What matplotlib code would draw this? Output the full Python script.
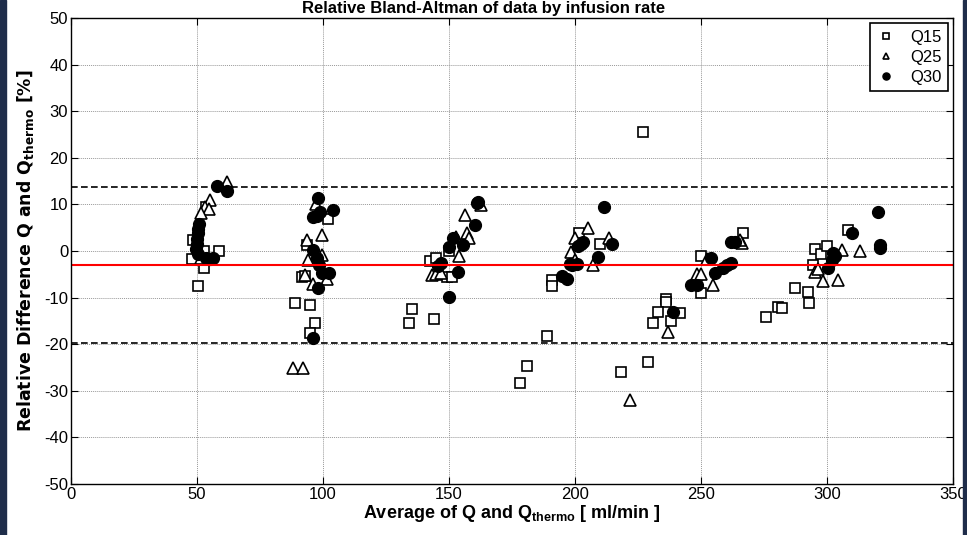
import matplotlib
matplotlib.use("Agg")
import matplotlib.pyplot as plt
from matplotlib.patches import Rectangle

plt.rcParams['font.family'] = ['Liberation Sans Narrow', 'Liberation Sans', 'DejaVu Sans']
plt.rcParams['mathtext.fontset'] = 'custom'
plt.rcParams['mathtext.bf'] = 'Liberation Sans:bold'
plt.rcParams['mathtext.sf'] = 'DejaVu Sans:bold'
plt.rcParams['axes.unicode_minus'] = False

# Q15 (squares)
q15_x = [53.4, 48.5, 52.8, 58.9, 48.1, 52.8, 52.8, 50.6,
         102.1, 93.5, 91.7, 93.0, 88.9, 95.0, 96.8, 94.8,
         150.0, 142.4, 145.0, 149.3, 151.2, 135.2, 134.1, 144.0,
         190.7, 190.7, 189.0, 181.0, 178.2, 201.7, 210.1, 226.9, 218.3, 229.1,
         266.8, 250.2, 250.2, 236.3, 236.3, 233.0, 241.7, 238.1, 230.9,
         275.9, 280.5, 282.3, 287.3, 292.3, 293.0, 294.6, 295.2, 297.8, 300.1, 308.2]
q15_y = [9.5, 2.3, 0.1, 0.1, -1.8, -1.8, -3.7, -7.6,
         6.8, 1.2, -5.5, -5.3, -11.2, -11.5, -15.4, -17.6,
         0.1, -2.1, -1.4, -5.6, -5.6, -12.4, -15.4, -14.6,
         -6.3, -7.5, -18.2, -24.7, -28.4, 3.9, 1.6, 25.6, -26.0, -23.9,
         3.8, -1.0, -9.1, -10.2, -10.9, -13.0, -13.4, -15.1, -15.5,
         -14.1, -12.1, -12.3, -7.9, -8.9, -11.1, -3.0, 0.4, -0.6, 1.1, 4.5]

# Q25 (triangles)
q25_x = [61.8, 55.3, 53.3, 54.9, 51.6, 51.5,
         97.4, 99.8, 93.5, 99.5, 94.2, 92.9, 96.2, 101.5, 88.0, 92.0,
         162.6, 156.4, 157.3, 158.0, 152.6, 153.9, 143.2, 145.0, 147.0,
         205.3, 200.0, 213.6, 198.3, 200.0, 207.3, 221.9,
         266.4, 265.5, 252.2, 248.3, 250.2, 254.6, 237.0,
         313.1, 305.8, 295.2, 296.5, 298.5, 304.5]
q25_y = [14.9, 10.9, 9.4, 9.1, 8.1, -1.5,
         10.1, 3.4, 2.4, -0.9, -2.0, -5.2, -7.0, -6.0, -25.1, -25.1,
         9.9, 7.8, 3.8, 2.7, 3.0, -1.1, -5.1, -5.0, -4.8,
         4.9, 2.7, 2.8, -0.2, -2.0, -3.0, -32.0,
         1.7, 2.3, -1.7, -4.9, -4.9, -7.4, -17.3,
         0.1, 0.3, -4.4, -3.8, -6.4, -6.2]

# Q30 (filled circles)
q30_x = [57.8, 61.8, 50.9, 50.6, 50.3, 50.1, 49.9, 49.8, 50.3, 53.5, 55.2, 56.2,
         98.2, 98.8, 96.2, 97.5, 104.1, 95.9, 97.5, 98.5, 99.5, 102.2, 98.1, 95.9,
         161.0, 161.5, 160.3, 151.6, 155.6, 150.2, 146.9, 145.5, 153.6, 150.2,
         211.6, 203.3, 201.3, 202.5, 214.5, 209.2, 197.9, 200.9, 199.0, 195.0, 197.0,
         253.8, 263.5, 262.0, 255.5, 258.8, 260.5, 262.1, 245.9, 248.3, 238.7,
         320.1, 321.0, 321.0, 310.0, 303.2, 301.9, 300.6, 302.5]
q30_y = [14.0, 12.9, 5.8, 4.8, 3.8, 2.6, 1.5, 0.4, -0.6, -1.6, -1.8, -1.5,
         11.3, 8.4, 7.3, 7.6, 8.7, 0.2, -1.5, -3.0, -4.8, -4.7, -7.9, -18.7,
         10.2, 10.6, 5.6, 2.7, 1.3, 0.8, -2.6, -3.2, -4.4, -9.8,
         9.4, 2.0, 1.1, 1.5, 1.5, -1.2, -2.8, -2.7, -3.0, -5.4, -6.1,
         -1.4, 2.0, 2.0, -4.8, -3.7, -3.0, -2.5, -7.2, -7.2, -13.0,
         8.3, 1.3, 0.6, 3.8, -1.1, -2.0, -3.7, -0.5]

mean_diff = -3.0
upper_loa = 13.7
lower_loa = -19.7

fig = plt.figure(figsize=(9.67, 5.35), dpi=100)
ax = fig.add_axes([0.0734, 0.0953, 0.9121, 0.8711])

ax.plot(q15_x, q15_y, 's', ms=7, mfc='white', mec='black', mew=1.2, label='Q15')
ax.plot(q25_x, q25_y, '^', ms=8, mfc='white', mec='black', mew=1.2, label='Q25')
ax.plot(q30_x, q30_y, 'o', ms=8.5, mfc='black', mec='black', label='Q30')

ax.axhline(mean_diff, color='red', lw=1.5)
ax.axhline(upper_loa, color='black', lw=1.2, ls='--', dashes=(4, 2))
ax.axhline(lower_loa, color='black', lw=1.2, ls='--', dashes=(4, 2))

ax.set_xlim(0, 350)
ax.set_ylim(-50, 50)
ax.set_xticks(range(0, 351, 50))
ax.set_yticks(range(-50, 51, 10))
ax.grid(True, color='#999999', ls=(0, (1, 1)), lw=0.7)
ax.tick_params(direction='in', top=True, right=True, labelsize=12, length=5, pad=2)
for s in ax.spines.values():
    s.set_linewidth(1.0)

ax.set_xlabel(r'Average of Q and Q$_{\mathbf{thermo}}$ [ ml/min ]',
              fontsize=13, fontweight='bold', labelpad=1)
ax.set_ylabel(r'Relative Difference Q and Q$_{\mathsf{thermo}}$ [%]',
              fontsize=12.5, fontweight='bold', family='DejaVu Sans', labelpad=6)

leg = ax.legend(loc='upper right', fontsize=12, markerscale=0.6, handlelength=1.2,
                fancybox=False, framealpha=1, edgecolor='black',
                borderaxespad=0.3, labelspacing=0.3)
leg.get_frame().set_linewidth(1.2)

fig.text(0.5, 0.999, 'Relative Bland-Altman of data by infusion rate',
         ha='center', va='top', fontsize=12, fontweight='bold')

# dark side strips of the window frame
fig.patches.append(Rectangle((0, 0), 0.006, 1, transform=fig.transFigure,
                             color='#1f2d4a', zorder=0))
fig.patches.append(Rectangle((0.996, 0), 0.004, 1, transform=fig.transFigure,
                             color='#1f2d4a', zorder=0))

fig.savefig('out.png', dpi=100)
